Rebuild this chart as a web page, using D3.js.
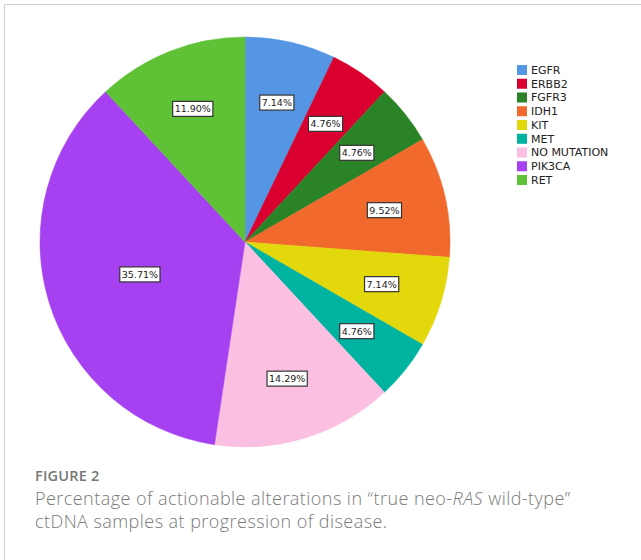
<!DOCTYPE html>
<html>
<head>
<meta charset="utf-8">
<script src="https://cdn.jsdelivr.net/npm/d3@7"></script>
<style>
  html, body { margin: 0; padding: 0; background: #fff; }
  svg { display: block; }
</style>
</head>
<body>
<svg id="chart" width="641" height="560"></svg>
<script>
// Actionable alterations found in ctDNA samples (number of samples, n = 42)
const categories = ["EGFR", "ERBB2", "FGFR3", "IDH1", "KIT", "MET", "NO MUTATION", "PIK3CA", "RET"];
const counts = [3, 2, 2, 4, 3, 2, 6, 15, 5];
const colors = ["#5596e4", "#d9002f", "#2a8427", "#f2692d", "#e3d80c", "#00b3a1", "#fbbfe1", "#a541f0", "#5fc136"];

const svg = d3.select("#chart");

// panel frame (top and left rule)
svg.append("path")
  .attr("d", "M4.5,560 V4.5 H641")
  .attr("fill", "none")
  .attr("stroke", "#cfcfcf")
  .attr("stroke-width", 1);

const cx = 245, cy = 242, R = 205;
const total = d3.sum(counts);
const data = categories.map((c, i) => ({ name: c, value: counts[i], color: colors[i] }));

const pie = d3.pie().value(d => d.value).sort(null);
const arcs = pie(data);
const arc = d3.arc().innerRadius(0).outerRadius(R);

const g = svg.append("g").attr("transform", `translate(${cx},${cy})`);

g.selectAll("path.slice")
  .data(arcs)
  .join("path")
  .attr("class", "slice")
  .attr("d", arc)
  .attr("fill", d => d.data.color)
  .attr("stroke", d => d.data.color)
  .attr("stroke-width", 0.5);

// percentage labels in boxed tags
const fmt = v => (v / total * 100).toFixed(2) + "%";
const labels = g.selectAll("g.lbl")
  .data(arcs)
  .join("g")
  .attr("class", "lbl")
  .attr("transform", d => {
    const share = d.data.value / total;
    const r = share > 0.25 ? 110 : 143;
    const a = (d.startAngle + d.endAngle) / 2;
    return `translate(${r * Math.sin(a)},${-r * Math.cos(a)})`;
  });

labels.each(function(d) {
  const sel = d3.select(this);
  const t = sel.append("text")
    .attr("text-anchor", "middle")
    .attr("dy", "0.36em")
    .attr("font-family", "DejaVu Sans")
    .attr("font-size", 9.5)
    .attr("fill", "#222")
    .text(fmt(d.data.value));
  const bb = t.node().getBBox();
  sel.insert("rect", "text")
    .attr("x", bb.x - 2)
    .attr("y", -7.5)
    .attr("width", bb.width + 4)
    .attr("height", 15)
    .attr("fill", "#fff")
    .attr("stroke", "#333")
    .attr("stroke-width", 1.2);
});

// legend
const legend = svg.append("g").attr("transform", "translate(517,65)");
const step = 13.75;
const items = legend.selectAll("g")
  .data(data)
  .join("g")
  .attr("transform", (d, i) => `translate(0,${i * step})`);
items.append("rect")
  .attr("width", 10)
  .attr("height", 10)
  .attr("fill", d => d.color);
items.append("text")
  .attr("x", 14)
  .attr("y", 5)
  .attr("dy", "0.36em")
  .attr("font-family", "DejaVu Sans")
  .attr("font-size", 11)
  .attr("fill", "#222")
  .text(d => d.name);

// figure caption
svg.append("text")
  .attr("x", 35).attr("y", 481)
  .attr("font-family", "Open Sans")
  .attr("font-size", 14.5)
  .attr("font-weight", 600)
  .attr("letter-spacing", 0.2)
  .attr("fill", "#777")
  .text("FIGURE 2");

const cap = svg.append("text")
  .attr("font-family", "Open Sans")
  .attr("font-size", 18)
  .attr("font-weight", 300)
  .attr("letter-spacing", 0.45)
  .attr("fill", "#7a7a7a");
const l1 = cap.append("tspan").attr("x", 35).attr("y", 505);
l1.append("tspan").text("Percentage of actionable alterations in \u201Ctrue neo-");
l1.append("tspan").attr("font-style", "italic").text("RAS");
l1.append("tspan").text(" wild-type\u201D");
cap.append("tspan").attr("x", 35).attr("y", 528).text("ctDNA samples at progression of disease.");
</script>
</body>
</html>
